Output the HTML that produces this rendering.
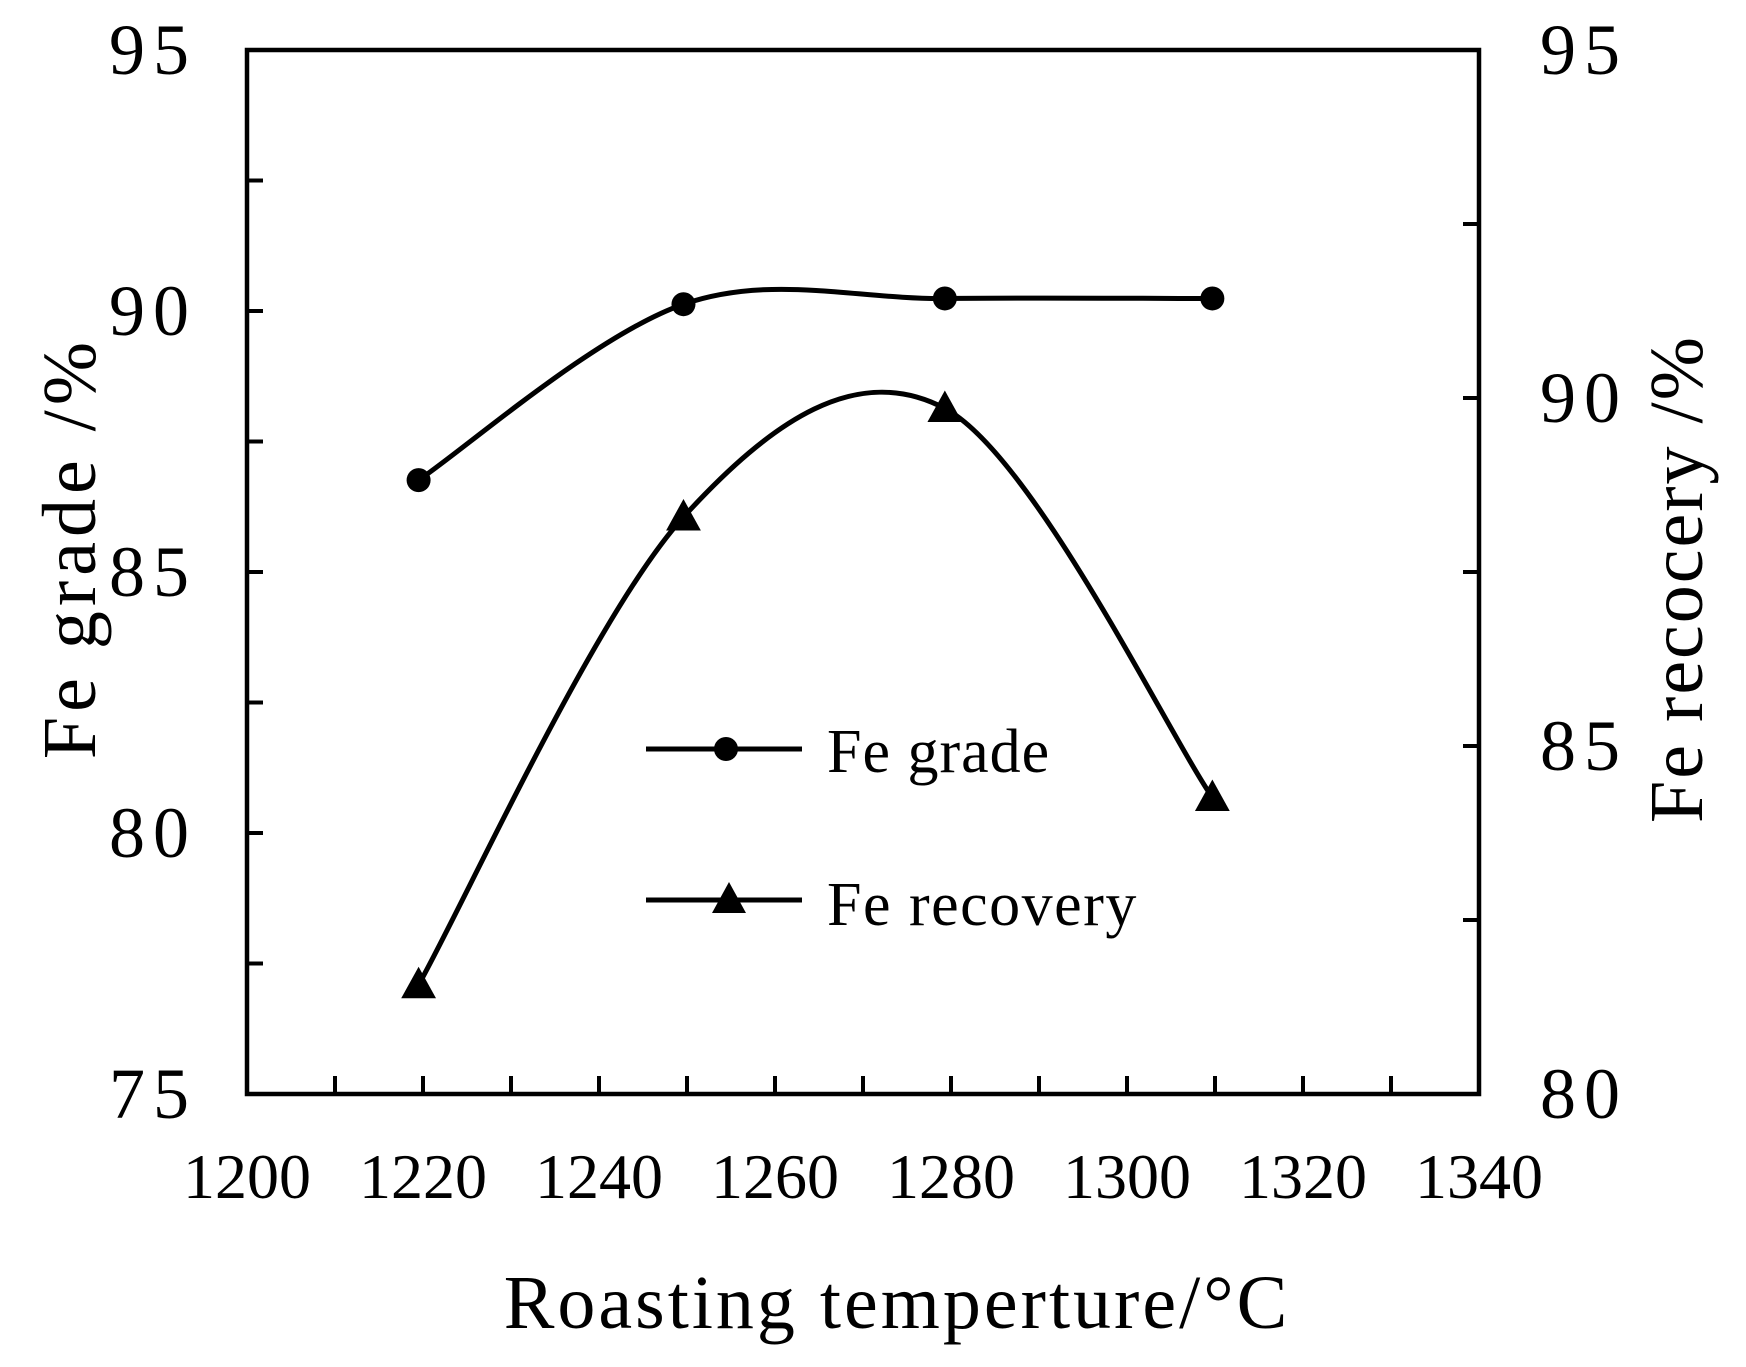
<!DOCTYPE html>
<html><head><meta charset="utf-8"><style>
html,body{margin:0;padding:0;background:#fff;}
svg{display:block;font-family:"Liberation Serif",serif;}
</style></head><body>
<svg id="chart" width="1746" height="1367" viewBox="0 0 1746 1367" xmlns="http://www.w3.org/2000/svg">
<rect x="0" y="0" width="1746" height="1367" fill="#fff"/>
<g id="marks"></g>
</svg>
<script>
const xCategories = [1219.5, 1249.6, 1279.3, 1309.7];
const gradeValues = [86.76, 90.13, 90.24, 90.24];
const recoveryValues = [81.57, 88.29, 89.85, 84.26];
const xTicks = [1200, 1220, 1240, 1260, 1280, 1300, 1320, 1340];
const leftTicks = [75, 80, 85, 90, 95];
const rightTicks = [80, 85, 90, 95];

const L = 247, R = 1479, T = 50, B = 1094;
const sx = v => L + (v - 1200) / 140 * (R - L);
const syL = v => B - (v - 75) / 20 * (B - T);
const syR = v => B - (v - 80) / 15 * (B - T);
const NS = "http://www.w3.org/2000/svg";
const g = document.getElementById('marks');
function el(tag, attrs, parent) {
  const e = document.createElementNS(NS, tag);
  for (const k in attrs) e.setAttribute(k, attrs[k]);
  (parent || g).appendChild(e);
  return e;
}
let f = el('rect', {x: L, y: T, width: R - L, height: B - T, fill: 'none', stroke: '#000', 'stroke-width': 4.5});


for (let v = 1210; v < 1340; v += 10) {
  const t = el('line', {x1: sx(v), x2: sx(v), y1: B, y2: B - 18, stroke: '#000', 'stroke-width': 4});
  
  
}
xTicks.forEach(v => {
  const t = el('text', {x: sx(v), y: 1198, 'font-size': 64, 'text-anchor': 'middle'});
  t.textContent = v;
  
  
});
for (let v = 77.5; v < 95; v += 2.5) {
  const t = el('line', {x1: L, x2: L + 16, y1: syL(v), y2: syL(v), stroke: '#000', 'stroke-width': 4});
  
  
}
leftTicks.forEach(v => {
  const t = el('text', {x: 197, y: syL(v) + 24, 'font-size': 72, 'text-anchor': 'end', 'letter-spacing': 8});
  t.textContent = v;
  
  
});
for (let v = 82.5; v < 95; v += 2.5) {
  const t = el('line', {x1: R, x2: R - 16, y1: syR(v), y2: syR(v), stroke: '#000', 'stroke-width': 4});
  
  
}
rightTicks.forEach(v => {
  const t = el('text', {x: 1540, y: syR(v) + 24, 'font-size': 72, 'text-anchor': 'start', 'letter-spacing': 8});
  t.textContent = v;
  
  
});
function smooth(pts) {
  let d = `M${pts[0][0]},${pts[0][1]}`;
  for (let i = 0; i < pts.length - 1; i++) {
    const p0 = pts[Math.max(0, i - 1)], p1 = pts[i], p2 = pts[i + 1], p3 = pts[Math.min(pts.length - 1, i + 2)];
    const c1 = [p1[0] + (p2[0] - p0[0]) / 6, p1[1] + (p2[1] - p0[1]) / 6];
    const c2 = [p2[0] - (p3[0] - p1[0]) / 6, p2[1] - (p3[1] - p1[1]) / 6];
    d += ` C${c1[0]},${c1[1]} ${c2[0]},${c2[1]} ${p2[0]},${p2[1]}`;
  }
  return d;
}
const gp = xCategories.map((x, i) => [sx(x), syL(gradeValues[i])]);
const rp = xCategories.map((x, i) => [sx(x), syR(recoveryValues[i])]);
let l1 = el('path', {d: smooth(gp), fill: 'none', stroke: '#000', 'stroke-width': 5});


let l2 = el('path', {d: smooth(rp), fill: 'none', stroke: '#000', 'stroke-width': 5});


function tri(cx, cy, s) {
  return `${cx},${cy - s * 0.6} ${cx - s * 0.58},${cy + s * 0.45} ${cx + s * 0.58},${cy + s * 0.45}`;
}
gp.forEach(p => {
  const c = el('circle', {cx: p[0], cy: p[1], r: 12, fill: '#000'});
  
  
});
rp.forEach(p => {
  const c = el('polygon', {points: tri(p[0], p[1], 30), fill: '#000'});
  
  
});
</script>
<script>
(function(){
const svg = document.getElementById('chart');
const NS = "http://www.w3.org/2000/svg";
function add(tag, attrs, txt){const e=document.createElementNS(NS,tag);for(const k in attrs)e.setAttribute(k,attrs[k]);if(txt)e.textContent=txt;svg.appendChild(e);return e;}
let e;
e = add('line',{x1:646,x2:802,y1:749,y2:749,stroke:'#000','stroke-width':5});


e = add('circle',{cx:726,cy:749,r:12,fill:'#000'});


e = add('text',{x:827,y:772,'font-size':62,'letter-spacing':1},'Fe grade');


e = add('line',{x1:646,x2:802,y1:900,y2:900,stroke:'#000','stroke-width':5});


e = add('polygon',{points:'729,882 712,913 746,913',fill:'#000'});


e = add('text',{x:827,y:925,'font-size':62,'letter-spacing':1.5},'Fe recovery');


e = add('text',{x:897,y:1328,'font-size':76,'text-anchor':'middle','letter-spacing':3},'Roasting temperture/\u00B0C');


e = add('text',{x:0,y:0,'font-size':76,'text-anchor':'middle','letter-spacing':5,transform:'translate(95,548) rotate(-90)'},'Fe grade  /%');


e = add('text',{x:0,y:0,'font-size':76,'text-anchor':'middle','letter-spacing':2,transform:'translate(1702,579) rotate(-90)'},'Fe recocery /%');


})();
</script>
</body></html>
